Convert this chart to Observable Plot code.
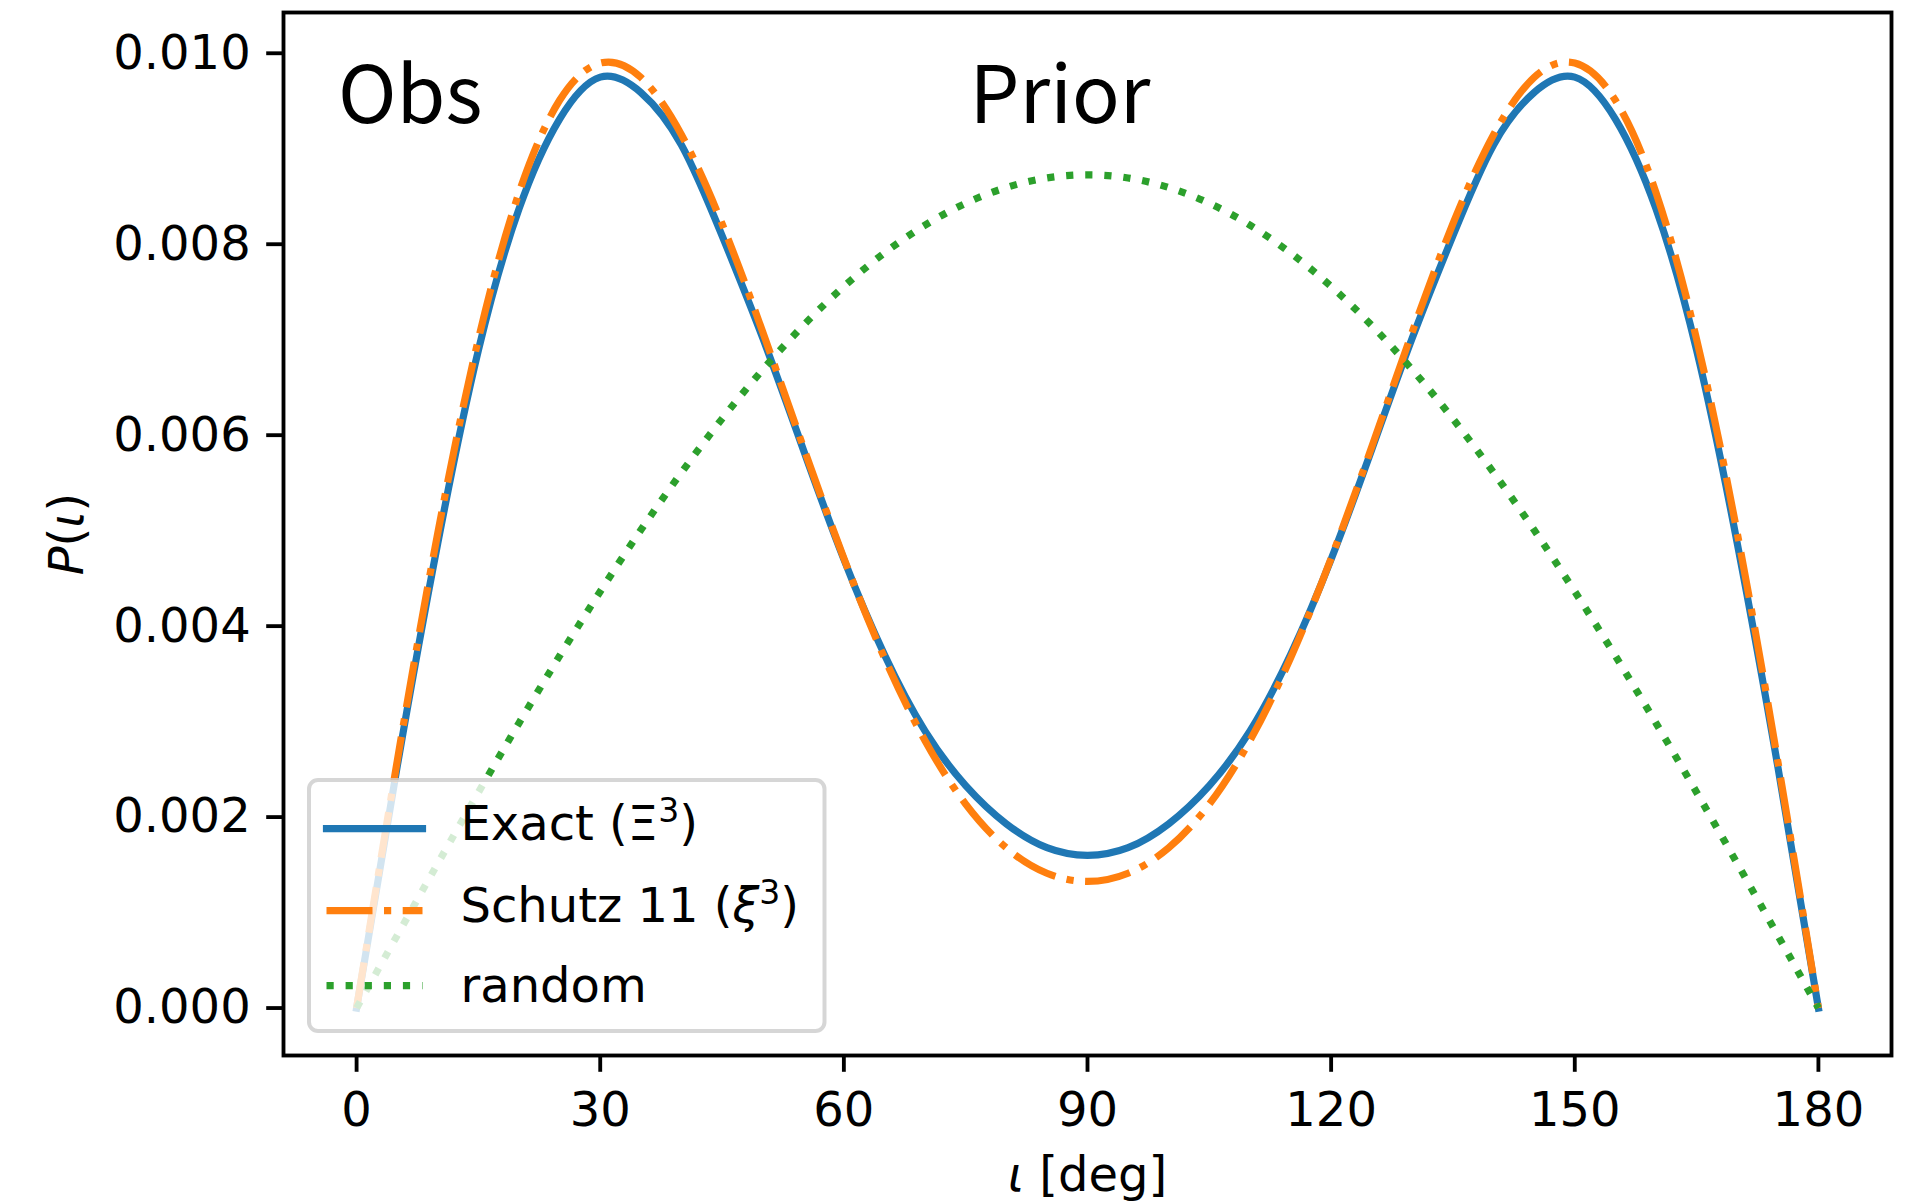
<!DOCTYPE html>
<html>
<head>
<meta charset="utf-8">
<script src="https://cdn.jsdelivr.net/npm/d3@7"></script>
<script src="https://cdn.jsdelivr.net/npm/@observablehq/plot@0.6"></script>
<style>
html, body { margin: 0; padding: 0; background: #fff; overflow: hidden; }
#chart { position: relative; width: 1922px; height: 1201px; }
#chart svg { display: block; }
</style>
</head>
<body>
<div id="chart"></div>
<script>
// ---- data ----
const inclinationDeg = [0, 5, 10, 15, 20, 25, 30, 35, 40, 45, 50, 55, 60, 65, 70, 75, 80, 85, 90,
  95, 100, 105, 110, 115, 120, 125, 130, 135, 140, 145, 150, 155, 160, 165, 170, 175, 180];

const exactXi3 = [0, 0.00253, 0.00487, 0.00689, 0.00837, 0.00931, 0.00975, 0.00959, 0.00904, 0.00809,
  0.00702, 0.00585, 0.00470, 0.00370, 0.00290, 0.00233, 0.00193, 0.00168, 0.00160,
  0.00168, 0.00193, 0.00233, 0.00290, 0.00370, 0.00470, 0.00585, 0.00702, 0.00809,
  0.00904, 0.00959, 0.00975, 0.00931, 0.00837, 0.00689, 0.00487, 0.00253, 0];

const schutz11Xi3 = [0, 0.002585, 0.004977, 0.007005, 0.008540, 0.009508, 0.009897, 0.009747, 0.009147, 0.008215,
  0.007083, 0.005878, 0.004711, 0.003667, 0.002800, 0.002136, 0.001678, 0.001412, 0.001326,
  0.001412, 0.001678, 0.002136, 0.002800, 0.003667, 0.004711, 0.005878, 0.007083, 0.008215,
  0.009147, 0.009747, 0.009897, 0.009508, 0.008540, 0.007005, 0.004977, 0.002585, 0];

const randomPrior = [0, 0.000761, 0.001515, 0.002259, 0.002985, 0.003688, 0.004363, 0.005006, 0.005609, 0.006171,
  0.006685, 0.007149, 0.007558, 0.007909, 0.008200, 0.008429, 0.008594, 0.008694, 0.008727,
  0.008694, 0.008594, 0.008429, 0.008200, 0.007909, 0.007558, 0.007149, 0.006685, 0.006171,
  0.005609, 0.005006, 0.004363, 0.003688, 0.002985, 0.002259, 0.001515, 0.000761, 0];

const xTicks = [0, 30, 60, 90, 120, 150, 180];
const yTicks = [0, 0.002, 0.004, 0.006, 0.008, 0.010];
const seriesNames = ["Exact", "Schutz 11", "random"];
const annotationLabels = ["Obs", "Prior"];
const xLabel = "ι [deg]";
const yLabel = "P(ι)";

// ---- table for the library ----
const rows = inclinationDeg.map((d, i) => ({
  inc: d, exact: exactXi3[i], schutz: schutz11Xi3[i], random: randomPrior[i]
}));

const C = { blue: "#1f77b4", orange: "#ff7f0e", green: "#2ca02c" };
const LW = 7.2;
const DASHDOT = "46 11.5 7.2 11.5";
const DOTTED = "7.2 11.9";
const annFont = "'Noto Sans CJK JP', 'Noto Sans', sans-serif";

const chart = Plot.plot({
  width: 1922,
  height: 1201,
  marginLeft: 283,
  marginRight: 31,
  marginTop: 12,
  marginBottom: 146,
  style: { fontFamily: "'DejaVu Sans', sans-serif", fontSize: "48px", background: "white", color: "black" },
  x: { domain: [-9, 189] },
  y: { domain: [-0.000497, 0.010427] },
  marks: [
    Plot.line(rows, { x: "inc", y: "exact", stroke: C.blue, strokeWidth: LW, curve: "natural",
      strokeLinecap: "square", strokeLinejoin: "round" }),
    Plot.line(rows, { x: "inc", y: "schutz", stroke: C.orange, strokeWidth: LW, curve: "natural",
      strokeDasharray: DASHDOT, strokeLinecap: "butt", strokeLinejoin: "round" }),
    Plot.line(rows, { x: "inc", y: "random", stroke: C.green, strokeWidth: LW, curve: "natural",
      strokeDasharray: DOTTED, strokeLinecap: "butt", strokeLinejoin: "round" }),
    Plot.frame({ stroke: "black", strokeWidth: 3.84 }),
    Plot.axisX({ ticks: xTicks, tickSize: 16.8, tickPadding: 19.7, strokeWidth: 3.84, label: null,
      tickFormat: (d) => String(d) }),
    Plot.axisY({ ticks: yTicks, tickSize: 16.8, tickPadding: 16, strokeWidth: 3.84, label: null,
      tickFormat: d3.format(".3f") }),
    Plot.text([annotationLabels[0]], { text: (d) => d, frameAnchor: "top-left", dx: 54.5, dy: 110,
      lineAnchor: "bottom", textAnchor: "start", fontSize: 79, fontFamily: annFont }),
    Plot.text([annotationLabels[1]], { text: (d) => d, frameAnchor: "top-left", dx: 686, dy: 110,
      lineAnchor: "bottom", textAnchor: "start", fontSize: 79, fontFamily: annFont }),
    Plot.text([xLabel], { text: (d) => d, frameAnchor: "bottom", dy: 135, lineAnchor: "bottom",
      textAnchor: "middle", fontSize: 48 }),
    Plot.text([yLabel], { text: (d) => d, frameAnchor: "left", dx: -201, rotate: -90, lineAnchor: "bottom",
      textAnchor: "middle", fontSize: 48 })
  ]
});

document.getElementById("chart").appendChild(chart);

// ---- math-style italics for the axis labels ----
const NS = "http://www.w3.org/2000/svg";
function setParts(el, parts) {
  el.textContent = "";
  for (const p of parts) {
    const t = document.createElementNS(NS, "tspan");
    if (p.italic) t.setAttribute("font-style", "italic");
    if (p.size) t.setAttribute("font-size", p.size);
    if (p.dy) t.setAttribute("dy", p.dy);
    t.textContent = p.s;
    el.appendChild(t);
  }
}
chart.querySelectorAll("text").forEach((t) => {
  if (t.textContent === xLabel) setParts(t, [{ s: "ι", italic: true }, { s: " [deg]" }]);
  else if (t.textContent === yLabel) setParts(t, [{ s: "P", italic: true }, { s: "(" }, { s: "ι", italic: true }, { s: ")" }]);
});

// ---- legend ----
const svg = d3.select(chart);
const lg = svg.append("g")
  .attr("font-family", "'DejaVu Sans', sans-serif")
  .attr("font-size", 48)
  .attr("text-anchor", "start")
  .attr("fill", "black");
lg.append("rect")
  .attr("x", 309).attr("y", 780).attr("width", 515.5).attr("height", 251).attr("rx", 9)
  .attr("fill", "rgba(255,255,255,0.8)")
  .attr("stroke", "rgba(204,204,204,0.8)").attr("stroke-width", 4);

const legendRows = [
  { color: C.blue, dash: null, cap: "square", lineY: 828.7, baseY: 840,
    parts: [{ s: seriesNames[0] + " (" }, { s: "Ξ" }, { s: "3", size: 33, dy: -18 }, { s: ")", dy: 18 }] },
  { color: C.orange, dash: DASHDOT, cap: "butt", lineY: 910.7, baseY: 922.3,
    parts: [{ s: seriesNames[1] + " (" }, { s: "ξ", italic: true }, { s: "3", size: 33, dy: -18 }, { s: ")", dy: 18 }] },
  { color: C.green, dash: DOTTED, cap: "butt", lineY: 985.7, baseY: 1001.7,
    parts: [{ s: seriesNames[2] }] }
];
for (const r of legendRows) {
  const ln = lg.append("line")
    .attr("x1", 326.5).attr("x2", 422.5).attr("y1", r.lineY).attr("y2", r.lineY)
    .attr("stroke", r.color).attr("stroke-width", LW).attr("stroke-linecap", r.cap);
  if (r.dash) ln.attr("stroke-dasharray", r.dash);
  const tx = lg.append("text").attr("x", 460.5).attr("y", r.baseY).attr("text-anchor", "start");
  setParts(tx.node(), r.parts);
}
</script>
</body>
</html>
